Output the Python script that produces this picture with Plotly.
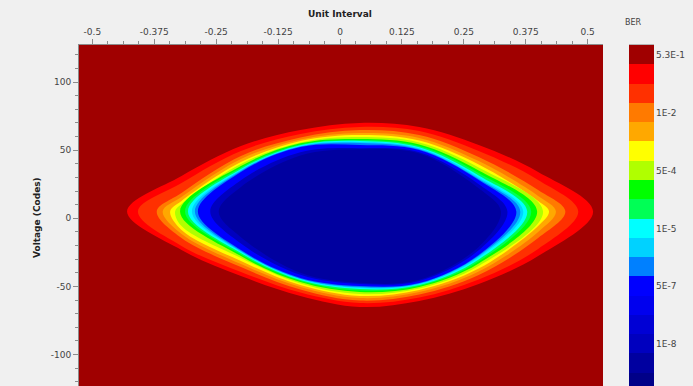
import plotly.graph_objects as go

# ---------------- data ----------------
# colour bands of the BER scale, top (highest BER) to bottom
BAND_COLORS = ['#a00000', '#ff0000', '#ff3000', '#ff7a00', '#ffa800', '#ffff00',
               '#b0ff00', '#00ff00', '#00ff55', '#00ffff', '#00d2ff', '#0080ff',
               '#0000ff', '#0000ee', '#0000d5', '#0000bf', '#0000a0', '#000088']
BER_TICK_BANDS = [1, 4, 7, 10, 13, 16]
BER_TICK_TEXT = ['5.3E-1', '1E-2', '5E-4', '1E-5', '5E-7', '1E-8']

X_TICKS = [-0.5, -0.375, -0.25, -0.125, 0, 0.125, 0.25, 0.375, 0.5]
X_TICK_TEXT = ['-0.5', '-0.375', '-0.25', '-0.125', '0', '0.125', '0.25', '0.375', '0.5']
Y_TICKS = [-100, -50, 0, 50, 100]
Y_TICK_TEXT = ['-100', '-50', '0', '50', '100']

# contour sample positions (Unit Interval)
GRID_UI = [-0.32, -0.20, -0.08, 0.04, 0.16, 0.28, 0.40]
TIP_Y = 5.0

# contour levels: band that fills the inside, left/right tip (UI), upper and lower voltage (codes)
LEVEL_BAND = [2, 3, 4, 5, 6, 7, 8, 9, 10, 11, 12, 13, 16, 17]
TIP_LEFT = [-0.430, -0.408, -0.370, -0.358, -0.343, -0.333, -0.323, -0.313, -0.307, -0.299,
            -0.293, -0.287, -0.262, -0.245]
TIP_RIGHT = [0.511, 0.481, 0.455, 0.436, 0.422, 0.410, 0.398, 0.386, 0.378, 0.370,
             0.364, 0.356, 0.338, 0.325]
UPPER = [
    [31.1, 53.1, 64.8, 70.0, 67.0, 53.8, 34.0],
    [25.9, 49.4, 61.9, 67.0, 64.1, 49.4, 28.1],
    [18.6, 45.7, 59.3, 64.8, 61.2, 45.0, 20.8],
    [15.6, 43.5, 57.9, 62.6, 59.0, 42.0, 16.4],
    [12.7, 41.3, 56.8, 61.2, 57.1, 39.5, 12.7],
    [10.5, 39.9, 55.7, 59.7, 55.7, 37.3, None],
    [None, 38.4, 55.0, 58.2, 54.2, 35.1, None],
    [None, 37.3, 54.2, 57.5, 53.1, 33.3, None],
    [None, 36.2, 53.6, 56.8, 52.1, 31.4, None],
    [None, 35.5, 53.1, 56.0, 51.4, 30.0, None],
    [None, 34.7, 52.7, 55.3, 50.7, 28.9, None],
    [None, 34.0, 52.3, 53.8, 50.1, 28.1, None],
    [None, 28.0, 48.5, 51.5, 48.5, 25.0, None],
    [None, 23.0, 46.0, 50.6, 47.5, 22.0, None],
]
LOWER = [
    [-23.3, -42.4, -57.0, -65.1, -60.7, -48.2, -27.7],
    [-20.3, -39.4, -54.5, -62.2, -58.1, -44.9, -22.5],
    [-14.5, -35.8, -52.3, -60.4, -55.9, -41.6, -14.5],
    [-11.5, -33.6, -50.4, -58.5, -54.1, -39.1, -10.1],
    [-8.6, -31.4, -49.0, -57.0, -52.6, -36.9, -5.7],
    [-5.7, -29.1, -47.9, -55.6, -51.5, -35.0, None],
    [None, -27.7, -46.8, -54.1, -50.4, -33.2, None],
    [None, -26.6, -46.0, -53.0, -49.7, -31.7, None],
    [None, -25.5, -45.3, -51.9, -49.0, -30.2, None],
    [None, -24.7, -44.8, -51.2, -48.5, -28.8, None],
    [None, -24.0, -44.3, -50.4, -47.9, -27.7, None],
    [None, -23.3, -43.8, -49.7, -47.5, -26.9, None],
    [None, -18.5, -41.5, -48.2, -46.0, -23.5, None],
    [None, -14.0, -40.0, -47.4, -45.2, -21.0, None],
]

# ---------------- layout geometry (pixels) ----------------
W, H = 693, 386
PL, PR, PT = 79, 603, 45          # plot area
CL, CR = 629, 654                 # colour bar
BAND_PX = 19.3

fig = go.Figure()

for i, band in enumerate(LEVEL_BAND):
    top = [(x, y) for x, y in zip(GRID_UI, UPPER[i]) if y is not None]
    bot = [(x, y) for x, y in zip(GRID_UI, LOWER[i]) if y is not None]
    c = len(top) // 2
    pts = top[c:] + [(TIP_RIGHT[i], TIP_Y)] + bot[::-1] + [(TIP_LEFT[i], TIP_Y)] + top[:c + 1]
    fig.add_trace(go.Scatter(
        x=[p[0] for p in pts], y=[p[1] for p in pts],
        mode='lines', line=dict(width=0, shape='spline', smoothing=1.0),
        fill='toself', fillcolor=BAND_COLORS[band - 1],
        hoverinfo='skip', showlegend=False, xaxis='x', yaxis='y'))

# colour bar drawn as a one-column heatmap of band indices
n = len(BAND_COLORS)
cscale = []
for j in range(n):
    cscale.append([j / n, BAND_COLORS[j]])
    cscale.append([(j + 1) / n, BAND_COLORS[j]])
bands = list(range(1, n + 1))
fig.add_trace(go.Heatmap(
    z=[[b] for b in bands], x=[0], y=bands, zmin=0.5, zmax=n + 0.5,
    colorscale=cscale, showscale=False, hoverinfo='skip', xaxis='x2', yaxis='y2'))

axis_font = dict(family='DejaVu Sans', size=9, color='#444444')
plot_dom_y = [0, (H - PT) / H]
fig.update_layout(
    xaxis=dict(
        domain=[PL / W, PR / W], anchor='y', side='top', range=[-0.527, 0.531],
        tickmode='array', tickvals=X_TICKS, ticktext=X_TICK_TEXT,
        ticks='outside', ticklen=5, tickcolor='#8c8c8c', tickfont=axis_font,
        minor=dict(tickmode='linear', tick0=0, dtick=0.03125, ticks='outside', ticklen=3,
                   tickcolor='#8c8c8c', showgrid=False),
        showgrid=False, zeroline=False, showline=True, linecolor='#8c8c8c', linewidth=1),
    yaxis=dict(
        domain=plot_dom_y, anchor='x', range=[-123.1, 127.2],
        tickmode='array', tickvals=Y_TICKS, ticktext=Y_TICK_TEXT,
        ticks='outside', ticklen=5, tickcolor='#8c8c8c', tickfont=axis_font,
        minor=dict(tickmode='linear', tick0=0, dtick=10, ticks='outside', ticklen=3,
                   tickcolor='#8c8c8c', showgrid=False),
        showgrid=False, zeroline=False, showline=True, linecolor='#8c8c8c', linewidth=1),
    xaxis2=dict(domain=[CL / W, CR / W], anchor='y2', range=[-0.5, 0.5], visible=True,
                showticklabels=False, ticks='', showgrid=False, zeroline=False,
                showline=True, mirror=True, linecolor='#b4b4b4', linewidth=1),
    yaxis2=dict(domain=plot_dom_y, anchor='x2', side='right',
                range=[0.5 + (H - PT) / BAND_PX, 0.5],
                tickmode='array', tickvals=BER_TICK_BANDS, ticktext=BER_TICK_TEXT,
                ticks='', ticklabelstandoff=1, tickfont=axis_font,
                showgrid=False, zeroline=False, showline=False),
    width=W, height=H, margin=dict(l=0, r=0, t=0, b=0, pad=0),
    paper_bgcolor='#f0f0f0', plot_bgcolor=BAND_COLORS[0], showlegend=False)

def paper(px, py):
    return px / W, 1 - py / H

ax, ay = paper(340, 14)
bx, by = paper(37, 218)
cx, cy = paper(633, 23)
fig.add_annotation(x=ax, y=ay, xref='paper', yref='paper', xanchor='center', yanchor='middle',
                   text='<b>Unit Interval</b>', showarrow=False,
                   font=dict(family='DejaVu Sans', size=9, color='#222222'))
fig.add_annotation(x=bx, y=by, xref='paper', yref='paper', xanchor='center', yanchor='middle',
                   text='<b>Voltage (Codes)</b>', textangle=-90, showarrow=False,
                   font=dict(family='DejaVu Sans', size=9, color='#222222'))
fig.add_annotation(x=cx, y=cy, xref='paper', yref='paper', xanchor='center', yanchor='middle',
                   text='BER', showarrow=False,
                   font=dict(family='DejaVu Sans', size=8, color='#444444'))

fig.write_html('out.html')
